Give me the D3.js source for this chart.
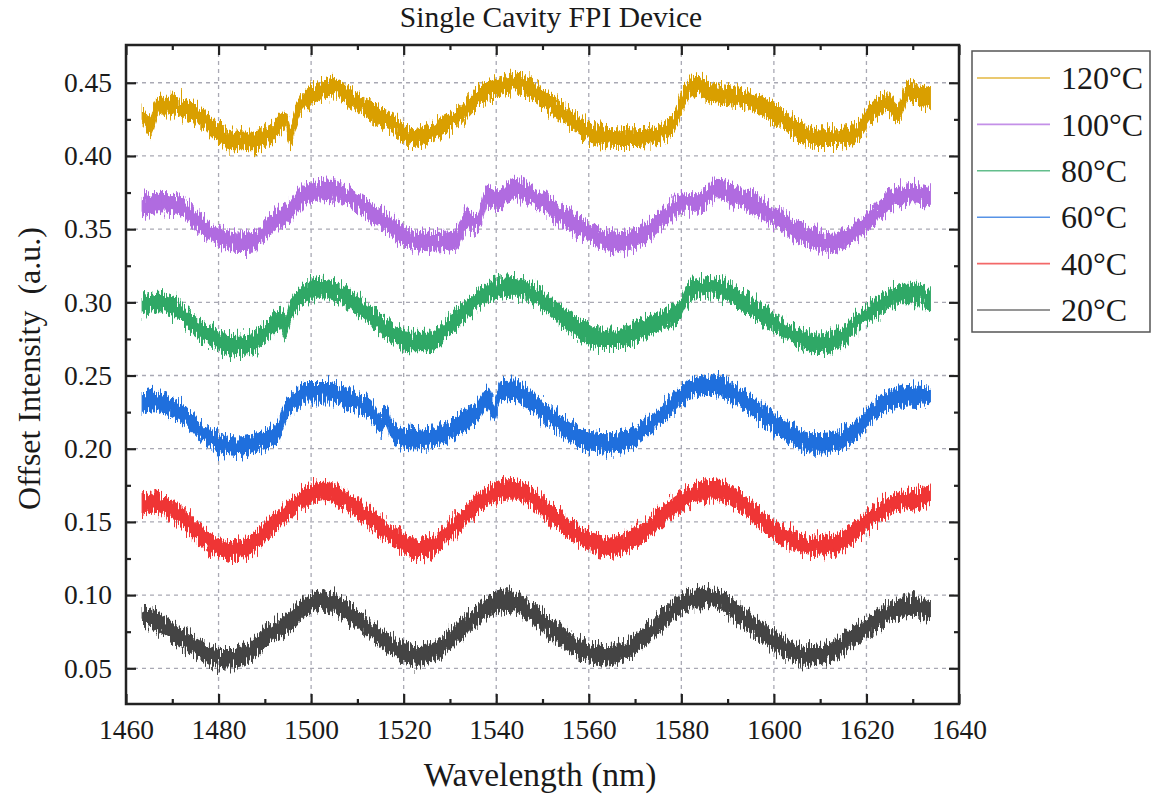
<!DOCTYPE html>
<html>
<head>
<meta charset="utf-8">
<script src="https://cdn.jsdelivr.net/npm/d3@7"></script>
<style>
  html, body { margin: 0; padding: 0; background: #fff; }
  svg { display: block; }
  text { font-family: "Liberation Serif", "Times New Roman", serif; fill: #1a1a1a; }
</style>
</head>
<body>
<svg id="chart" width="1154" height="805"></svg>
<script>
// Offset transmission spectra of the single-cavity FPI at six temperatures.
// Each trace is a list of [wavelength (nm), offset intensity (a.u.)] readings.
const trace20 = [[1463.5,0.0864],[1466,0.083],[1469,0.077],[1472,0.071],[1475,0.065],[1478,0.059],[1480.5,0.0565],[1483,0.0565],[1486,0.060],[1490,0.071],[1494.5,0.080],[1499,0.0925],[1502.5,0.096],[1506,0.0925],[1510.6,0.0823],[1515,0.071],[1520,0.0607],[1523,0.0584],[1527.8,0.064],[1532.4,0.0766],[1537,0.089],[1542.2,0.096],[1546.2,0.0914],[1550.8,0.080],[1555.4,0.0687],[1560,0.0607],[1563.4,0.0584],[1568,0.0619],[1572.6,0.0732],[1577.2,0.0868],[1581.8,0.097],[1585.3,0.0986],[1588.7,0.096],[1593.3,0.0846],[1598,0.0732],[1602.5,0.064],[1607,0.0584],[1611.7,0.0607],[1616.3,0.070],[1621,0.080],[1625.5,0.089],[1630,0.0925],[1633.8,0.089]];
const trace40 = [[1463.5,0.1607],[1466,0.163],[1471.5,0.155],[1476,0.1414],[1480,0.1323],[1483,0.130],[1486.4,0.1334],[1491,0.146],[1495.6,0.1595],[1500.2,0.1698],[1503.7,0.171],[1507,0.1663],[1511.7,0.155],[1516.3,0.1436],[1519.8,0.1357],[1523.2,0.1312],[1526.7,0.1346],[1531.3,0.148],[1535.9,0.1618],[1540.5,0.171],[1543.9,0.172],[1547.4,0.1675],[1552,0.155],[1556.6,0.1436],[1561.1,0.1357],[1564.6,0.1334],[1569.2,0.138],[1573.8,0.148],[1578.4,0.1607],[1583,0.1698],[1586.4,0.172],[1589.9,0.1698],[1594.5,0.1595],[1599,0.147],[1603.7,0.138],[1608.3,0.1334],[1612.9,0.1346],[1617.5,0.1436],[1622,0.155],[1626.7,0.164],[1631.3,0.1663],[1633.8,0.1675]];
const trace60 = [[1463.5,0.2312],[1466,0.233],[1469.2,0.229],[1472.6,0.2232],[1476,0.2119],[1480,0.2039],[1484,0.2017],[1488.7,0.205],[1492.8,0.2119],[1494.5,0.2255],[1496,0.2312],[1499,0.239],[1503.7,0.239],[1508.3,0.2334],[1512.9,0.2266],[1515.2,0.2175],[1516.2,0.222],[1517.5,0.2119],[1522,0.2062],[1526.7,0.2073],[1531.3,0.2153],[1535.9,0.2255],[1538,0.2345],[1539.5,0.226],[1541,0.2395],[1544,0.240],[1546.2,0.2357],[1550.8,0.2243],[1555.4,0.213],[1560,0.205],[1564.6,0.2039],[1569.2,0.2073],[1573.8,0.2175],[1578.4,0.2312],[1583,0.2425],[1586.4,0.2436],[1589.9,0.2402],[1594.5,0.2312],[1599,0.2198],[1603.7,0.2096],[1608.3,0.2039],[1612.9,0.205],[1617.5,0.2119],[1621,0.2243],[1624.4,0.2323],[1629,0.2368],[1633.8,0.2357]];
const trace80 = [[1463.5,0.297],[1466.9,0.3005],[1470.3,0.297],[1473.8,0.2868],[1478.4,0.2766],[1483,0.271],[1487,0.272],[1491,0.2823],[1493.5,0.289],[1494.5,0.2836],[1495.5,0.2936],[1498,0.305],[1502.5,0.3095],[1507,0.305],[1511.7,0.2936],[1516.3,0.2823],[1521,0.2732],[1525.5,0.2732],[1530,0.2846],[1534.7,0.2982],[1539.3,0.3084],[1543.9,0.3107],[1548.5,0.305],[1553,0.2936],[1557.7,0.2823],[1562.3,0.2755],[1566.9,0.2755],[1571.5,0.2823],[1576,0.288],[1579.5,0.2936],[1581.8,0.3073],[1586.4,0.3107],[1591,0.305],[1595.6,0.2959],[1600.2,0.2857],[1604.8,0.2766],[1609.4,0.272],[1614,0.2755],[1618.6,0.288],[1623.2,0.2982],[1627.8,0.3061],[1631.3,0.3061],[1633.8,0.3016]];
const trace100 = [[1463.5,0.3652],[1466.9,0.3675],[1471.5,0.3663],[1475,0.3561],[1479.5,0.3459],[1484,0.341],[1487.6,0.3414],[1491,0.3527],[1495.6,0.363],[1499,0.3743],[1503.7,0.3766],[1508.3,0.372],[1512.9,0.3618],[1517.5,0.3516],[1522,0.3425],[1526.7,0.3414],[1531.3,0.3425],[1533.6,0.3561],[1535.9,0.3539],[1538.2,0.3732],[1540.5,0.3697],[1543.9,0.3777],[1548.5,0.372],[1553,0.3618],[1557.7,0.3527],[1562.3,0.3436],[1566.9,0.3414],[1571.5,0.3459],[1576,0.3573],[1580.7,0.3686],[1584,0.3686],[1587.6,0.3777],[1592.2,0.372],[1596.8,0.3652],[1600.2,0.3584],[1603.7,0.3516],[1608.3,0.3436],[1612.9,0.3402],[1617.5,0.3482],[1621,0.3573],[1625.5,0.3697],[1630,0.3743],[1633.8,0.372]];
const trace120 = [[1463.5,0.4284],[1465.2,0.4205],[1466.9,0.4341],[1470.3,0.4341],[1473.8,0.4307],[1477.2,0.4239],[1479.5,0.4171],[1483,0.4103],[1487.6,0.4103],[1491,0.4148],[1494.5,0.4239],[1495.6,0.4137],[1496.8,0.428],[1498,0.4364],[1501.4,0.4432],[1504.8,0.4477],[1508.3,0.4398],[1511.7,0.433],[1515.2,0.4262],[1518.6,0.4205],[1522,0.4125],[1525.5,0.416],[1529,0.4216],[1532.4,0.4284],[1535.9,0.4398],[1540.5,0.4477],[1543.9,0.450],[1547.4,0.4455],[1552,0.4352],[1556.6,0.4239],[1561.1,0.4148],[1565.7,0.4125],[1570.3,0.4125],[1575,0.4148],[1578.4,0.4228],[1580.7,0.4409],[1583.6,0.4489],[1586.4,0.4432],[1591,0.4409],[1595.6,0.4364],[1600.2,0.4296],[1604.8,0.4182],[1609.4,0.4125],[1614,0.4125],[1617.5,0.4148],[1621,0.4296],[1624.4,0.4364],[1626.7,0.4296],[1629,0.4443],[1632.4,0.4409],[1633.8,0.4398]];

// Peak-to-peak spread of the detector noise on each trace (a.u.)
const noiseSpread = [0.0125, 0.0125, 0.0125, 0.0125, 0.0125, 0.0120];

const seriesLabels = ["20°C", "40°C", "60°C", "80°C", "100°C", "120°C"];
const seriesColors = ["#444444", "#ef3535", "#1f6fdd", "#2fa866", "#b06be0", "#d99f00"];
const traces = [trace20, trace40, trace60, trace80, trace100, trace120];

const xMajorTicks = [1460, 1480, 1500, 1520, 1540, 1560, 1580, 1600, 1620, 1640];
const xMinorTicks = [1470, 1490, 1510, 1530, 1550, 1570, 1590, 1610, 1630];
const yMajorTicks = [0.05, 0.10, 0.15, 0.20, 0.25, 0.30, 0.35, 0.40, 0.45];
const yMinorTicks = [0.075, 0.125, 0.175, 0.225, 0.275, 0.325, 0.375, 0.425];

// ---- layout ----
const box = { left: 126, right: 959, top: 45, bottom: 704 };
const svg = d3.select("#chart");

const x = d3.scaleLinear().domain([1460, 1640]).range([box.left, box.right]);
const y = d3.scaleLinear().domain([0.0256, 0.4758]).range([box.bottom, box.top]);

// noise texture: column-wise vertical jitter of the trace bands
const defs = svg.append("defs");
const f = defs.append("filter")
  .attr("id", "jitter")
  .attr("filterUnits", "userSpaceOnUse")
  .attr("x", box.left).attr("y", box.top)
  .attr("width", box.right - box.left).attr("height", box.bottom - box.top)
  .attr("color-interpolation-filters", "sRGB");
f.append("feTurbulence")
  .attr("type", "fractalNoise")
  .attr("baseFrequency", "0.75 0.06")
  .attr("numOctaves", 2)
  .attr("seed", 7)
  .attr("result", "noise");
f.append("feColorMatrix")
  .attr("in", "noise")
  .attr("type", "matrix")
  .attr("values", "0 0 0 0 0.5  0 1 0 0 0  0 0 0 0 0  0 0 0 0 1")
  .attr("result", "map");
f.append("feDisplacementMap")
  .attr("in", "SourceGraphic")
  .attr("in2", "map")
  .attr("scale", 24)
  .attr("xChannelSelector", "R")
  .attr("yChannelSelector", "G");

// ---- grid ----
const grid = svg.append("g").attr("class", "grid")
  .attr("stroke", "#a9a9b4").attr("stroke-width", 1.3).attr("stroke-dasharray", "4,4");
grid.selectAll("line.v")
  .data(xMajorTicks.filter(d => d > 1460 && d < 1640))
  .join("line")
  .attr("x1", d => x(d)).attr("x2", d => x(d))
  .attr("y1", box.top).attr("y2", box.bottom);
grid.selectAll("line.h")
  .data(yMajorTicks)
  .join("line")
  .attr("x1", box.left).attr("x2", box.right)
  .attr("y1", d => y(d)).attr("y2", d => y(d));

// ---- traces ----
const band = (spread) => d3.area()
  .x(d => x(d[0]))
  .y0(d => y(d[1] - spread / 2))
  .y1(d => y(d[1] + spread / 2))
  .curve(d3.curveMonotoneX);

const traceLayer = svg.append("g").attr("filter", "url(#jitter)");
traces.forEach((t, i) => {
  traceLayer.append("path")
    .datum(t)
    .attr("d", band(noiseSpread[i]))
    .attr("fill", seriesColors[i])
    .attr("stroke", seriesColors[i])
    .attr("stroke-width", 1.2);
});

// ---- axes ----
const axisFont = 27.5;
function styleAxis(g) {
  g.select(".domain").remove();
  g.selectAll(".tick line").attr("stroke", "#222").attr("stroke-width", 2.2);
}

svg.append("g").attr("transform", `translate(0,${box.bottom})`)
  .call(d3.axisBottom(x).tickValues(xMajorTicks).tickSize(-10).tickPadding(15).tickFormat(d3.format("d")))
  .call(styleAxis)
  .call(g => g.selectAll("text").attr("font-size", axisFont).attr("font-family", null).attr("fill", "#1a1a1a"));
svg.append("g").attr("transform", `translate(0,${box.bottom})`)
  .call(d3.axisBottom(x).tickValues(xMinorTicks).tickSize(-5).tickFormat(""))
  .call(styleAxis);
svg.append("g").attr("transform", `translate(0,${box.top})`)
  .call(d3.axisTop(x).tickValues(xMajorTicks).tickSize(-10).tickFormat(""))
  .call(styleAxis);
svg.append("g").attr("transform", `translate(0,${box.top})`)
  .call(d3.axisTop(x).tickValues(xMinorTicks).tickSize(-5).tickFormat(""))
  .call(styleAxis);

svg.append("g").attr("transform", `translate(${box.left},0)`)
  .call(d3.axisLeft(y).tickValues(yMajorTicks).tickSize(-10).tickPadding(14).tickFormat(d3.format(".2f")))
  .call(styleAxis)
  .call(g => g.selectAll("text").attr("font-size", axisFont).attr("font-family", null).attr("fill", "#1a1a1a"));
svg.append("g").attr("transform", `translate(${box.left},0)`)
  .call(d3.axisLeft(y).tickValues(yMinorTicks).tickSize(-5).tickFormat(""))
  .call(styleAxis);
svg.append("g").attr("transform", `translate(${box.right},0)`)
  .call(d3.axisRight(y).tickValues(yMajorTicks).tickSize(-10).tickFormat(""))
  .call(styleAxis);
svg.append("g").attr("transform", `translate(${box.right},0)`)
  .call(d3.axisRight(y).tickValues(yMinorTicks).tickSize(-5).tickFormat(""))
  .call(styleAxis);

// frame
svg.append("rect")
  .attr("x", box.left).attr("y", box.top)
  .attr("width", box.right - box.left).attr("height", box.bottom - box.top)
  .attr("fill", "none").attr("stroke", "#222").attr("stroke-width", 2.5);

// ---- titles ----
svg.append("text")
  .attr("x", 551).attr("y", 27)
  .attr("text-anchor", "middle").attr("font-size", 29.5)
  .text("Single Cavity FPI Device");

svg.append("text")
  .attr("x", 540).attr("y", 786)
  .attr("text-anchor", "middle").attr("font-size", 33.5)
  .text("Wavelength (nm)");

svg.append("text")
  .attr("transform", `translate(40,${(box.top + box.bottom) / 2 - 6}) rotate(-90)`)
  .attr("text-anchor", "middle").attr("font-size", 32)
  .attr("xml:space", "preserve")
  .text("Offset Intensity  (a.u.)");

// ---- legend ----
const legend = svg.append("g").attr("transform", "translate(972,51)");
legend.append("rect")
  .attr("width", 178).attr("height", 281)
  .attr("fill", "#fff").attr("stroke", "#555").attr("stroke-width", 1.5);
const order = d3.range(traces.length).reverse();
const rowY = d3.scalePoint().domain(order).range([27, 259]);
const rows = legend.selectAll("g.row").data(order).join("g")
  .attr("transform", d => `translate(0,${rowY(d)})`);
rows.append("line")
  .attr("x1", 5).attr("x2", 78)
  .attr("stroke", d => seriesColors[d]).attr("stroke-width", 1.6).attr("stroke-opacity", 0.75);
rows.append("text")
  .attr("x", 89).attr("dy", "0.35em")
  .attr("font-size", 32)
  .text(d => seriesLabels[d]);
</script>
</body>
</html>
